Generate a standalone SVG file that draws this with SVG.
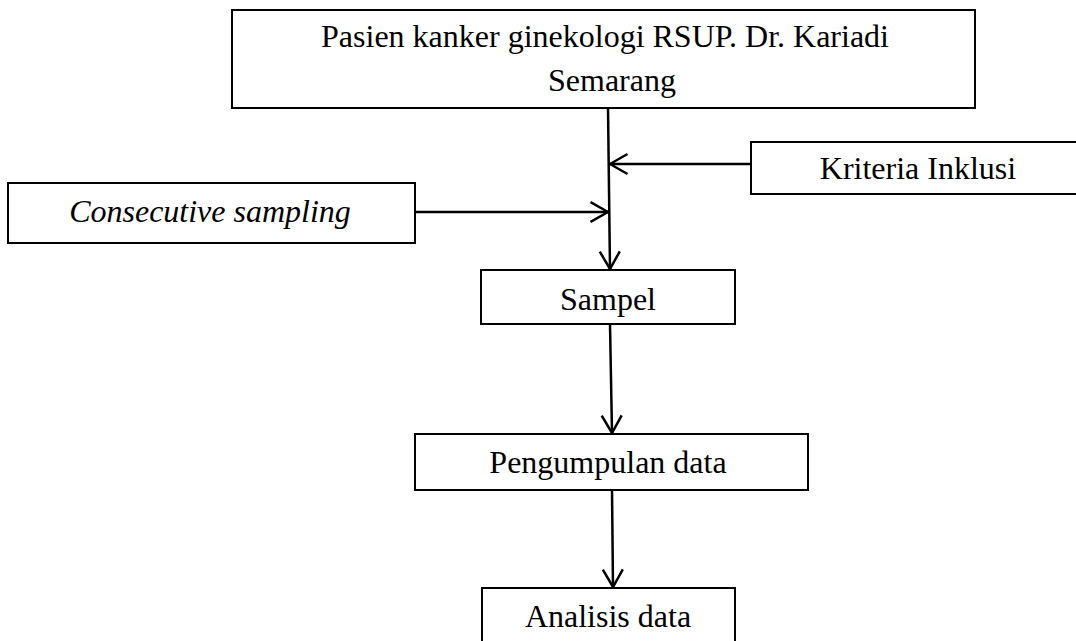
<svg xmlns="http://www.w3.org/2000/svg" width="1076" height="641" viewBox="0 0 1076 641">
<style>
.box{fill:#fff;stroke:#000;stroke-width:2}
.t{font-family:"Liberation Serif","Times New Roman",serif;font-size:32px;fill:#000;text-anchor:middle}
.c{fill:none;stroke:#000;stroke-width:2.5}
</style>
<defs>
<marker id="ah" viewBox="0 0 20 24" refX="18.5" refY="12" markerWidth="20" markerHeight="24" markerUnits="userSpaceOnUse" orient="auto">
<path d="M1,2 L18.5,12 L1,22" fill="none" stroke="#000" stroke-width="2.5"/>
</marker>
</defs>
<g id="connectors">
<line class="c" x1="608" y1="108" x2="610" y2="269" marker-end="url(#ah)"/>
<line class="c" x1="751" y1="164" x2="610" y2="164" marker-end="url(#ah)"/>
<line class="c" x1="415" y1="212" x2="608" y2="212" marker-end="url(#ah)"/>
<line class="c" x1="610" y1="324" x2="612" y2="433" marker-end="url(#ah)"/>
<line class="c" x1="612" y1="490" x2="613" y2="587" marker-end="url(#ah)"/>
</g>
<g id="pasien">
<rect class="box" x="232" y="10" width="743" height="98"/>
<text class="t" x="605" y="47">Pasien kanker ginekologi RSUP. Dr. Kariadi</text>
<text class="t" x="612" y="91">Semarang</text>
</g>
<g id="kriteria">
<rect class="box" x="751" y="142" width="340" height="52"/>
<text class="t" x="918" y="179">Kriteria Inklusi</text>
</g>
<g id="consecutive">
<rect class="box" x="8" y="183" width="407" height="60"/>
<text class="t" x="210" y="222" font-style="italic">Consecutive sampling</text>
</g>
<g id="sampel">
<rect class="box" x="481" y="270" width="254" height="54"/>
<text class="t" x="608" y="310">Sampel</text>
</g>
<g id="pengumpulan">
<rect class="box" x="415" y="434" width="393" height="56"/>
<text class="t" x="608" y="473">Pengumpulan data</text>
</g>
<g id="analisis">
<rect class="box" x="482" y="588" width="253" height="60"/>
<text class="t" x="608" y="627">Analisis data</text>
</g>
</svg>
